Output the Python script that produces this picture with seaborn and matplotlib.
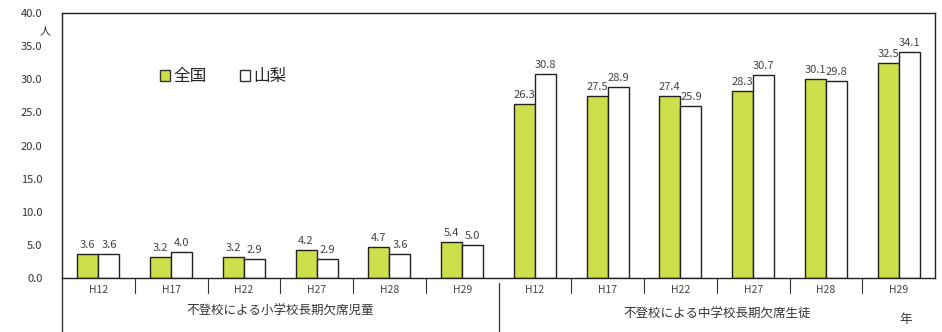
import matplotlib
matplotlib.use("Agg")
import matplotlib.pyplot as plt
import matplotlib.transforms as mtransforms
import seaborn as sns
import pandas as pd
from matplotlib.patches import Patch

years = ["H12", "H17", "H22", "H27", "H28", "H29"]
groups = ["不登校による小学校長期欠席児童", "不登校による中学校長期欠席生徒"]
series = ["全国", "山梨"]
elem_national = [3.6, 3.2, 3.2, 4.2, 4.7, 5.4]
elem_yamanashi = [3.6, 4.0, 2.9, 2.9, 3.6, 5.0]
mid_national = [26.3, 27.5, 27.4, 28.3, 30.1, 32.5]
mid_yamanashi = [30.8, 28.9, 25.9, 30.7, 29.8, 34.1]
yticks = [0, 5, 10, 15, 20, 25, 30, 35, 40]

sns.set_theme(style="white")
plt.rcParams['font.family'] = ['Noto Sans CJK JP', 'DejaVu Sans']

rows = []
keys = []
for g, nat, yam in [(groups[0], elem_national, elem_yamanashi), (groups[1], mid_national, mid_yamanashi)]:
    for y, a, b in zip(years, nat, yam):
        k = g[-4:] + y
        keys.append(k)
        rows.append({"key": k, "series": series[0], "value": a})
        rows.append({"key": k, "series": series[1], "value": b})
df = pd.DataFrame(rows)

fig = plt.figure(figsize=(9.42, 3.32), dpi=100)
ax = fig.add_axes([62/942, (332-278)/332, (935-62)/942, (278-13)/332])

green = "#cddf4a"
sns.barplot(data=df, x="key", y="value", hue="series", order=keys, hue_order=series,
            palette=[green, "#ffffff"], edgecolor="#222222", linewidth=1.0,
            width=0.58, saturation=1, ax=ax, legend=False)

ax.set_ylim(0, 40)
ax.set_xlim(-0.5, len(keys) - 0.5)
ax.set_yticks(yticks)
ax.set_yticklabels([f"{v:.1f}" for v in yticks], fontsize=8, color="#333333")
ax.tick_params(axis="y", direction="in", length=3, pad=14)
ax.set_xticks([])
ax.set_xlabel("")
ax.set_ylabel("")
for s in ax.spines.values():
    s.set_color("#222222")
    s.set_linewidth(1.0)

# value labels
for cont in ax.containers:
    for rect, v in zip(cont.patches, cont.datavalues):
        ax.text(rect.get_x() + rect.get_width() / 2, rect.get_height() + 0.6, f"{v:.1f}",
                ha="center", va="bottom", fontsize=8, color="#444444")

# category table under axis
tr = mtransforms.blended_transform_factory(ax.transData, ax.transAxes)
for i, k in enumerate(keys):
    ax.text(i, -0.025, years[i % 6], transform=tr, ha="center", va="top", fontsize=7.5, color="#444444")
for i in range(1, len(keys)):
    if i == 6:
        continue
    ax.plot([i - 0.5, i - 0.5], [0, -0.055], transform=tr, color="#333333", lw=0.8, clip_on=False)
ax.plot([5.5, 5.5], [-0.02, -0.21], transform=tr, color="#333333", lw=0.9, clip_on=False)
ax.plot([-0.5, -0.5], [0, -0.21], transform=tr, color="#333333", lw=1.0, clip_on=False)
ax.text(2.5, -0.125, groups[0], transform=tr, ha="center", va="center", fontsize=9, color="#333333")
ax.text(8.5, -0.135, groups[1], transform=tr, ha="center", va="center", fontsize=9, color="#333333")
ax.text(11.1, -0.155, "年", transform=tr, ha="center", va="center", fontsize=9, color="#333333")

# unit label
fig.text(45/942, 1 - 31/332, "人", ha="center", va="center", fontsize=8, color="#333333")

handles = [Patch(facecolor=green, edgecolor="#333333", label=series[0]),
           Patch(facecolor="white", edgecolor="#333333", label=series[1])]
ax.legend(handles=handles, ncol=2, frameon=False, loc="center left",
          bbox_to_anchor=(0.095, 0.76), fontsize=12, handlelength=0.6, handleheight=0.6,
          handletextpad=0.2, columnspacing=2.0)

fig.savefig("out.png", dpi=100)
